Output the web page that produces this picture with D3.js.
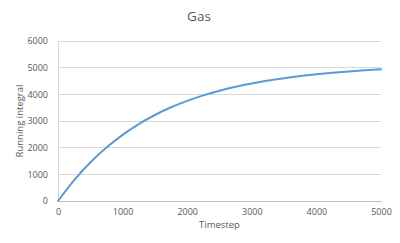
<!DOCTYPE html>
<html>
<head>
<meta charset="utf-8">
<script src="https://cdn.jsdelivr.net/npm/d3@7"></script>
<style>
  body { margin: 0; background: #fff; }
  text { font-family: "Open Sans", "Liberation Sans", sans-serif; fill: #595959; }
</style>
</head>
<body>
<svg id="chart" width="400" height="243"></svg>
<script>
// values
const timesteps = [0, 250, 500, 750, 1000, 1250, 1500, 1750, 2000, 2250, 2500,
                   2750, 3000, 3250, 3500, 3750, 4000, 4250, 4500, 4750, 5000];
const runningIntegral = [0, 785, 1445, 2005, 2480, 2885, 3225, 3515, 3755, 3960, 4135,
                         4285, 4405, 4515, 4605, 4685, 4750, 4805, 4855, 4900, 4940];
const xTicks = [0, 1000, 2000, 3000, 4000, 5000];
const yTicks = [0, 1000, 2000, 3000, 4000, 5000, 6000];

const svg = d3.select("#chart");
const margin = {left: 58, right: 19, top: 41, bottom: 42};
const w = 400, h = 243;

const x = d3.scaleLinear().domain([0, 5000]).range([margin.left, w - margin.right]);
const y = d3.scaleLinear().domain([0, 6000]).range([h - margin.bottom, margin.top]);

// gridlines
svg.append("g")
    .selectAll("line")
    .data(yTicks.filter(d => d > 0))
    .join("line")
    .attr("x1", x(0)).attr("x2", x(5000))
    .attr("y1", d => y(d)).attr("y2", d => y(d))
    .attr("stroke", "#d9d9d9").attr("stroke-width", 1)
    .attr("shape-rendering", "crispEdges");

// left axis
const yAxis = svg.append("g")
    .attr("transform", `translate(${x(0)},0)`)
    .call(d3.axisLeft(y).tickValues(yTicks).tickFormat(d3.format("d")).tickSize(0).tickPadding(10));
yAxis.select(".domain").attr("stroke", "#d9d9d9").attr("shape-rendering", "crispEdges");
yAxis.selectAll("text").style("font-size", "9px").style("fill", "#595959");

// bottom axis
const xAxis = svg.append("g")
    .attr("transform", `translate(0,${y(0)})`)
    .call(d3.axisBottom(x).tickValues(xTicks).tickFormat(d3.format("d")).tickSize(0).tickPadding(8));
xAxis.select(".domain").attr("stroke", "#bfbfbf").attr("shape-rendering", "crispEdges");
xAxis.selectAll("text").style("font-size", "9px").style("fill", "#595959");

// line
const line = d3.line()
    .x((d, i) => x(timesteps[i]))
    .y(d => y(d))
    .curve(d3.curveMonotoneX);

svg.append("path")
    .datum(runningIntegral)
    .attr("fill", "none")
    .attr("stroke", "#5b9bd5")
    .attr("stroke-width", 2)
    .attr("stroke-linecap", "round")
    .attr("d", line);

// titles
svg.append("text")
    .attr("x", 199).attr("y", 21)
    .attr("text-anchor", "middle")
    .style("font-size", "13.5px")
    .text("Gas");

svg.append("text")
    .attr("x", (x(0) + x(5000)) / 2).attr("y", 228)
    .attr("text-anchor", "middle")
    .style("font-size", "9.5px")
    .text("Timestep");

svg.append("text")
    .attr("transform", `translate(23,${(y(0) + y(6000)) / 2}) rotate(-90)`)
    .attr("text-anchor", "middle")
    .style("font-size", "9.5px")
    .text("Running integral");
</script>
</body>
</html>
